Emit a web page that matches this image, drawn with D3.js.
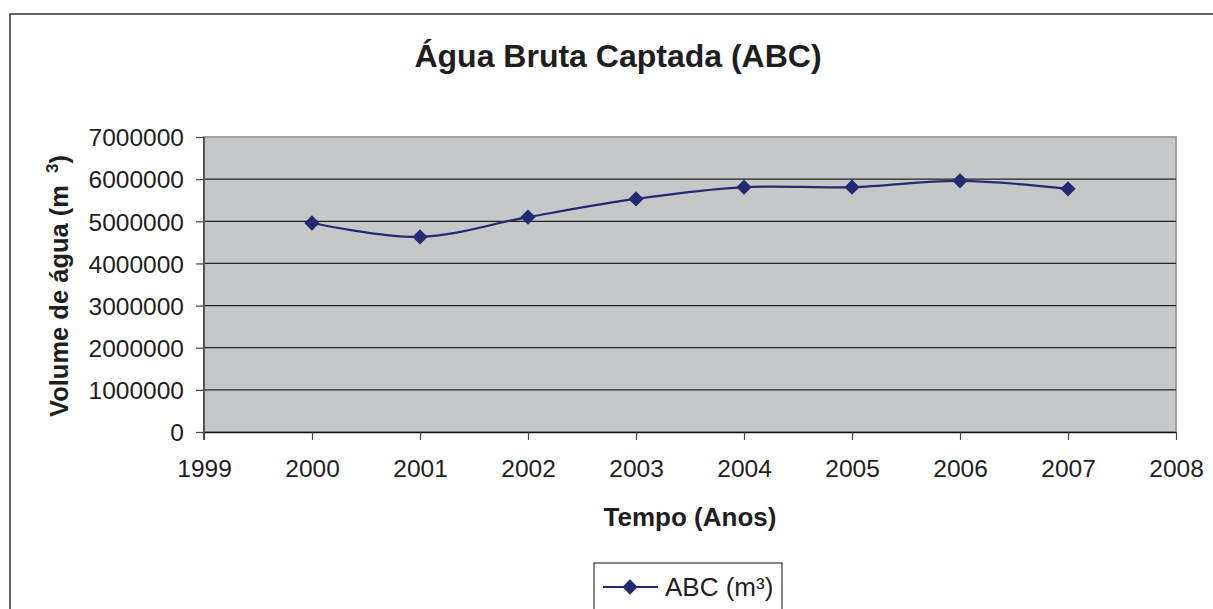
<!DOCTYPE html>
<html>
<head>
<meta charset="utf-8">
<script src="https://cdn.jsdelivr.net/npm/d3@7"></script>
<style>
  body { margin: 0; background: #fff; }
  svg { display: block; font-family: Arial, "Liberation Sans", sans-serif; }
</style>
</head>
<body>
<svg id="chart" width="1213" height="609"></svg>
<script>
// Água bruta captada, ABC (m³)
const YEARS = [2000, 2001, 2002, 2003, 2004, 2005, 2006, 2007];
const VOLUMES = [4960000, 4630000, 5100000, 5530000, 5810000, 5810000, 5960000, 5770000];
const X_TICKS = [1999, 2000, 2001, 2002, 2003, 2004, 2005, 2006, 2007, 2008];
const Y_TICKS = [0, 1000000, 2000000, 3000000, 4000000, 5000000, 6000000, 7000000];

const svg = d3.select("#chart");
const plot = { left: 204, right: 1176, top: 137, bottom: 432 };
const LINE = "#232a72";

const x = d3.scaleLinear().domain([1999, 2008]).range([plot.left, plot.right]);
const y = d3.scaleLinear().domain([0, 7000000]).range([plot.bottom, plot.top]);

// outer chart frame (runs off the right and bottom edges)
svg.append("rect").attr("x", 10).attr("y", 14).attr("width", 1240).attr("height", 640)
  .attr("fill", "none").attr("stroke", "#333").attr("stroke-width", 1.5);

// plot area
svg.append("rect")
  .attr("x", plot.left).attr("y", plot.top)
  .attr("width", plot.right - plot.left).attr("height", plot.bottom - plot.top)
  .attr("fill", "#c6c7c9").attr("stroke", "#a0a0a0").attr("stroke-width", 2);

// gridlines
svg.append("g").selectAll("line")
  .data(Y_TICKS.filter((d) => d > 0 && d < 7000000)).enter().append("line")
  .attr("x1", plot.left).attr("x2", plot.right)
  .attr("y1", (d) => y(d)).attr("y2", (d) => y(d))
  .attr("stroke", "#222").attr("stroke-width", 1.2);

// axes
const yAxis = svg.append("g").attr("transform", `translate(${plot.left},0)`)
  .call(d3.axisLeft(y).tickValues(Y_TICKS).tickFormat(d3.format("d")).tickSize(8).tickSizeOuter(0));
const xAxis = svg.append("g").attr("transform", `translate(0,${plot.bottom})`)
  .call(d3.axisBottom(x).tickValues(X_TICKS).tickFormat(d3.format("d")).tickSize(8).tickSizeOuter(0));

yAxis.select(".domain").attr("stroke", "#555").attr("stroke-width", 2)
  .attr("d", `M0,${plot.top}V${plot.bottom + 8}`);
xAxis.select(".domain").attr("stroke", "#111").attr("stroke-width", 1.5);
svg.selectAll(".tick line").attr("stroke", "#444").attr("stroke-width", 1.2);
yAxis.selectAll("text").attr("font-size", 24.5).attr("fill", "#1e1e1e").attr("x", -20).attr("dy", "0.36em");
xAxis.selectAll("text").attr("font-size", 24.5).attr("fill", "#1e1e1e").attr("y", 28).attr("dy", "0.71em");
svg.selectAll(".tick text").attr("font-family", "Arial, 'Liberation Sans', sans-serif");

// smoothed series line + diamond markers
const line = d3.line().x((d) => x(d[0])).y((d) => y(d[1])).curve(d3.curveCardinal.tension(0));
const pts = YEARS.map((yr, i) => [yr, VOLUMES[i]]);
svg.append("path").datum(pts).attr("d", line)
  .attr("fill", "none").attr("stroke", LINE).attr("stroke-width", 2.2);

const diamond = d3.symbol().type(d3.symbolDiamond2).size(150);
svg.append("g").selectAll("path").data(pts).enter().append("path")
  .attr("d", diamond)
  .attr("transform", (d) => `translate(${x(d[0])},${y(d[1])})`)
  .attr("fill", LINE);

// title + axis titles
svg.append("text").attr("x", 618).attr("y", 67).attr("text-anchor", "middle")
  .attr("font-size", 32).attr("font-weight", "bold").attr("fill", "#1e1e1e")
  .text("Água Bruta Captada (ABC)");

svg.append("text").attr("x", 690).attr("y", 526).attr("text-anchor", "middle")
  .attr("font-size", 26).attr("font-weight", "bold").attr("fill", "#1e1e1e")
  .text("Tempo (Anos)");

const yt = svg.append("text").attr("transform", "translate(68,286) rotate(-90)")
  .attr("text-anchor", "middle").attr("font-size", 25.5).attr("font-weight", "bold").attr("fill", "#1e1e1e");
yt.append("tspan").text("Volume de água (m");
yt.append("tspan").attr("dx", 12).attr("dy", -10).attr("font-size", 17).text("3");
yt.append("tspan").attr("dy", 10).text(")");

// legend
const lg = svg.append("g");
lg.append("rect").attr("x", 594).attr("y", 563).attr("width", 188).attr("height", 80)
  .attr("fill", "#fff").attr("stroke", "#333").attr("stroke-width", 1.2);
lg.append("line").attr("x1", 603).attr("x2", 658).attr("y1", 587).attr("y2", 587)
  .attr("stroke", LINE).attr("stroke-width", 2);
lg.append("path").attr("d", diamond).attr("transform", "translate(630,587)").attr("fill", LINE);
lg.append("text").attr("x", 665).attr("y", 596).attr("font-size", 26).attr("fill", "#1e1e1e")
  .text("ABC (m³)");
</script>
</body>
</html>
